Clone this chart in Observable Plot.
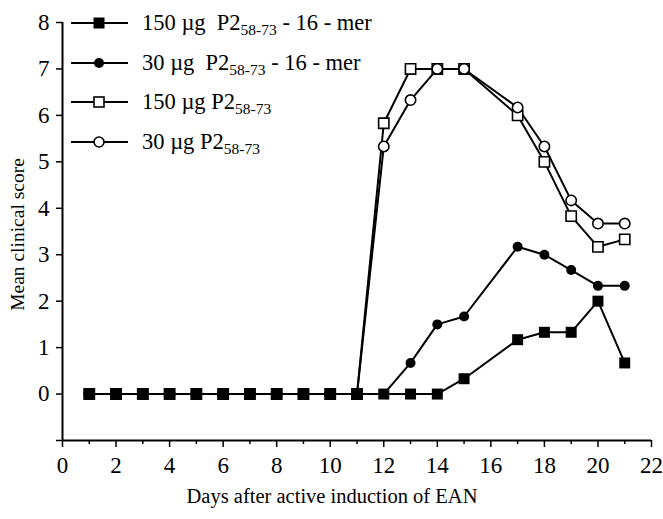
<!DOCTYPE html>
<html>
<head>
<meta charset="utf-8">
<script src="https://cdn.jsdelivr.net/npm/d3@7"></script>
<script src="https://cdn.jsdelivr.net/npm/@observablehq/plot@0.6"></script>
<style>
  html, body { margin: 0; padding: 0; background: #fff; }
  #wrap { position: relative; width: 663px; height: 519px; }
  #legend { position: absolute; left: 0; top: 0; pointer-events: none; }
</style>
</head>
<body>
<div id="wrap"></div>
<script>
// ---- data ----
const days = [1,2,3,4,5,6,7,8,9,10,11,12,13,14,15,17,18,19,20,21];
const mer150 = [0,0,0,0,0,0,0,0,0,0,0,0,0,0,0.33,1.17,1.33,1.33,2.0,0.67];
const mer30  = [0,0,0,0,0,0,0,0,0,0,0,0,0.67,1.5,1.67,3.17,3.0,2.67,2.33,2.33];
const p150   = [0,0,0,0,0,0,0,0,0,0,0,5.83,7,7,7,6.0,5.0,3.83,3.17,3.33];
const p30    = [0,0,0,0,0,0,0,0,0,0,0,5.33,6.33,7,7,6.17,5.33,4.17,3.67,3.67];
const xTicks = [0,2,4,6,8,10,12,14,16,18,20,22];
const xMinor = [1,3,5,7,9,11,13,15,17,19,21];
const yTicks = [-1,0,1,2,3,4,5,6,7,8];
const xTitle = "Days after active induction of EAN";
const yTitle = "Mean clinical score";
const legendPrefix = ["150 µg  P2", "30 µg  P2", "150 µg P2", "30 µg P2"];
const legendSub = ["58-73", "58-73", "58-73", "58-73"];
const legendSuffix = [" - 16 - mer", " - 16 - mer", "", ""];

const toRows = (vals) => days.map((d, i) => ({day: d, v: vals[i]}));
const R150 = toRows(p150), R30 = toRows(p30), M30 = toRows(mer30), M150 = toRows(mer150);

const font = "'Liberation Serif', 'Times New Roman', serif";
const lineOpts = {x: "day", y: "v", stroke: "black", strokeWidth: 2};

const chart = Plot.plot({
  width: 663, height: 519,
  marginLeft: 62, marginRight: 12, marginTop: 22, marginBottom: 79,
  style: {fontFamily: font, fontSize: "23px", color: "black", background: "white", overflow: "visible"},
  x: {domain: [0, 22]},
  y: {domain: [-1, 8]},
  marks: [
    Plot.axisX({ticks: xTicks, tickSize: 7, tickPadding: 9, label: null, strokeWidth: 1.5, fontSize: 23}),
    Plot.axisX({ticks: xMinor, tickSize: 4, tickFormat: () => "", label: null, strokeWidth: 1.5}),
    Plot.axisY({ticks: yTicks, tickSize: 6, tickPadding: 7, label: null, strokeWidth: 1.5, fontSize: 23,
                tickFormat: d => d < 0 ? "" : String(d)}),
    Plot.ruleX([0], {stroke: "black", strokeWidth: 2}),
    Plot.ruleY([-1], {stroke: "black", strokeWidth: 2}),
    Plot.text([xTitle], {frameAnchor: "bottom", dx: -25, dy: 56, fontSize: 20.5, textAnchor: "middle", lineAnchor: "middle", fill: "black"}),
    Plot.text([yTitle], {frameAnchor: "left", dx: -45, dy: 3, rotate: -90, fontSize: 19.5, textAnchor: "middle", lineAnchor: "middle", fill: "black"}),
    Plot.line(R30, lineOpts),
    Plot.line(R150, lineOpts),
    Plot.line(M30, lineOpts),
    Plot.line(M150, lineOpts),
    Plot.dot(R150, {x: "day", y: "v", symbol: "square", r: 5.8, fill: "white", stroke: "black", strokeWidth: 1.6}),
    Plot.dot(R30, {x: "day", y: "v", symbol: "circle", r: 5.2, fill: "white", stroke: "black", strokeWidth: 1.6}),
    Plot.dot(M30, {x: "day", y: "v", symbol: "circle", r: 5, fill: "black", stroke: "none"}),
    Plot.dot(M150, {x: "day", y: "v", symbol: "square", r: 6.2, fill: "black", stroke: "none"})
  ]
});

const wrap = document.getElementById("wrap");
wrap.appendChild(chart);

// ---- legend overlay ----
const ns = "http://www.w3.org/2000/svg";
const lg = document.createElementNS(ns, "svg");
lg.setAttribute("id", "legend");
lg.setAttribute("width", 663);
lg.setAttribute("height", 519);
const rowY = [23, 63, 102, 142];
const symbols = [
  {shape: "square", fill: "black", stroke: "none", s: 11},
  {shape: "circle", fill: "black", stroke: "none", s: 10},
  {shape: "square", fill: "white", stroke: "black", s: 10},
  {shape: "circle", fill: "white", stroke: "black", s: 10}
];
rowY.forEach((y, i) => {
  const ln = document.createElementNS(ns, "line");
  ln.setAttribute("x1", 71); ln.setAttribute("x2", 128);
  ln.setAttribute("y1", y); ln.setAttribute("y2", y);
  ln.setAttribute("stroke", "black"); ln.setAttribute("stroke-width", 2);
  lg.appendChild(ln);
  const sym = symbols[i];
  let m;
  if (sym.shape === "square") {
    m = document.createElementNS(ns, "rect");
    m.setAttribute("x", 99 - sym.s / 2); m.setAttribute("y", y - sym.s / 2);
    m.setAttribute("width", sym.s); m.setAttribute("height", sym.s);
  } else {
    m = document.createElementNS(ns, "circle");
    m.setAttribute("cx", 99); m.setAttribute("cy", y); m.setAttribute("r", sym.s / 2);
  }
  m.setAttribute("fill", sym.fill);
  m.setAttribute("stroke", sym.stroke);
  m.setAttribute("stroke-width", 1.6);
  lg.appendChild(m);
  const t = document.createElementNS(ns, "text");
  t.setAttribute("x", 142); t.setAttribute("y", y + 7);
  t.setAttribute("font-family", font);
  t.setAttribute("font-size", 22.5);
  t.setAttribute("style", "white-space: pre");
  const t1 = document.createElementNS(ns, "tspan");
  t1.textContent = legendPrefix[i];
  const t2 = document.createElementNS(ns, "tspan");
  t2.setAttribute("font-size", 15.5); t2.setAttribute("dy", 5);
  t2.textContent = legendSub[i];
  t.appendChild(t1); t.appendChild(t2);
  if (legendSuffix[i]) {
    const t3 = document.createElementNS(ns, "tspan");
    t3.setAttribute("dy", -5);
    t3.textContent = legendSuffix[i];
    t.appendChild(t3);
  }
  lg.appendChild(t);
});
wrap.appendChild(lg);
</script>
</body>
</html>
